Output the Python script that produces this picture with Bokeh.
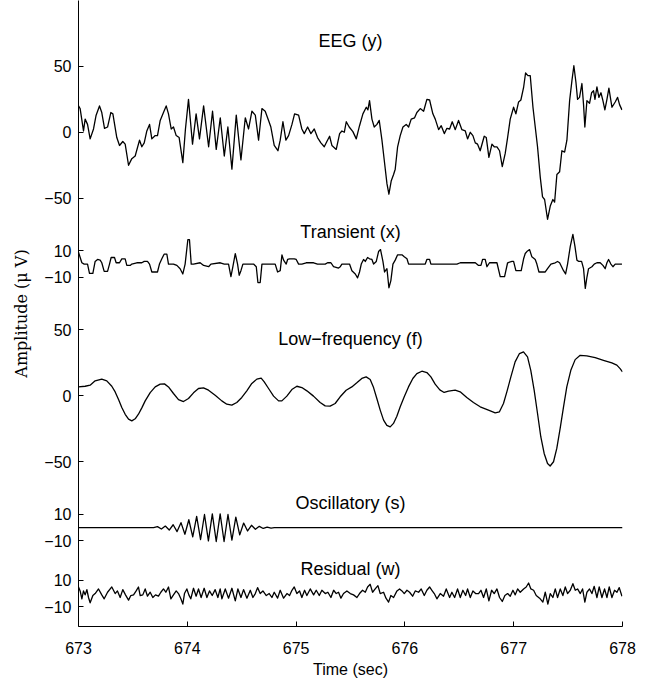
from bokeh.plotting import figure
from bokeh.models import FixedTicker
from bokeh.core.properties import value
from bokeh.embed import file_html
from bokeh.resources import INLINE

# ---------------- data ----------------
eeg_t = [673.000, 673.015, 673.046, 673.061, 673.083, 673.107, 673.138, 673.162, 673.193, 673.214,
         673.239, 673.267, 673.297, 673.316, 673.352, 673.377, 673.407, 673.429, 673.460, 673.490,
         673.521, 673.561, 673.582, 673.604, 673.628, 673.653, 673.674, 673.705, 673.726, 673.751,
         673.781, 673.806, 673.827, 673.852, 673.873, 673.898, 673.925, 673.959, 673.983, 674.011,
         674.048, 674.081, 674.112, 674.150, 674.196, 674.232, 674.266, 674.303, 674.340, 674.373,
         674.410, 674.450, 674.493, 674.533, 674.563, 674.594, 674.625, 674.655, 674.686, 674.716,
         674.747, 674.768, 674.799, 674.833, 674.854, 674.879, 674.906, 674.931, 674.962, 674.986,
         675.023, 675.053, 675.075, 675.106, 675.136, 675.167, 675.197, 675.228, 675.259, 675.277,
         675.308, 675.329, 675.369, 675.400, 675.421, 675.443, 675.461, 675.488, 675.522, 675.553,
         675.583, 675.614, 675.645, 675.660, 675.675, 675.697, 675.718, 675.743, 675.764, 675.789,
         675.810, 675.835, 675.853, 675.874, 675.896, 675.911, 675.933, 675.957, 675.982, 676.012,
         676.034, 676.058, 676.089, 676.110, 676.141, 676.172, 676.202, 676.227, 676.257, 676.279,
         676.310, 676.334, 676.362, 676.386, 676.411, 676.435, 676.463, 676.493, 676.524, 676.555,
         676.576, 676.601, 676.625, 676.647, 676.668, 676.692, 676.729, 676.748, 676.772, 676.800,
         676.821, 676.846, 676.870, 676.895, 676.922, 676.944, 676.968, 676.999, 677.020, 677.045,
         677.066, 677.091, 677.109, 677.131, 677.152, 677.177, 677.198, 677.219, 677.244, 677.265,
         677.284, 677.311, 677.336, 677.360, 677.376, 677.397, 677.422, 677.443, 677.468, 677.489,
         677.514, 677.535, 677.553, 677.572, 677.587, 677.605, 677.627, 677.642, 677.654, 677.673,
         677.697, 677.716, 677.734, 677.747, 677.765, 677.783, 677.802, 677.820, 677.838, 677.857,
         677.875, 677.903, 677.933, 677.955, 677.973, 677.995]
eeg_v = [20, 18, 1, 10, 6, -5, 2.5, 13, 20, 15,
         3, 4, 15, 14, -4, -10, -7, -9, -25, -20,
         -18, -6, -11, -8, 1, 6, -5, -2.5, -2.5, 9,
         15, 20, 14, 2.5, 4, -2.5, -4, -23, 2.5, 25,
         -9, 14, -5, 20, -11, 16, -13, 11, -18, 4,
         -28, 13, -21, 11, 2.5, 16, 13, -6, 18, 16,
         9, 4, -10, -14, -6, 8, -6, -2.5, 6, 14,
         13, 2.5, -1, 4, -1, 2.5, -4, -8, -11, -8,
         -3, -10, -13, -1, 1, 0, 8, 4, 0.5, -5,
         5, 14, 19, 17, 24, 10, 4, 6, 9, -6,
         -21, -39, -47, -37, -32, -28, -11, -2.5, 4, 6,
         4, 10, 11, 15, 18, 16, 25, 24.5, 14, 10,
         2, 5, -1, 3, 2.5, 8, 2, 9, 2, 1,
         -5, 0, -2.5, -8, -9, -14, -3, -4, -19, -9,
         -11, -11, -14, -26, -16, -4, 10, 19, 14, 23,
         24.5, 34, 45, 43, 43, 19, 4, -11, -34, -49,
         -51, -66, -56, -51, -53, -32, -30, -14, -15, -6,
         24, 39, 50.5, 38, 25, 26.5, 37, 21, 4, 24,
         22, 30, 31.5, 25, 34.5, 26.5, 30, 24, 17, 25,
         33.5, 19, 23, 26.5, 21, 17]

tr_t = [673.000, 673.031, 673.052, 673.083, 673.101, 673.132, 673.153, 673.175, 673.199, 673.214,
        673.236, 673.267, 673.285, 673.300, 673.331, 673.346, 673.377, 673.398, 673.429, 673.444,
        673.475, 673.490, 673.536, 673.582, 673.604, 673.634, 673.653, 673.674, 673.726, 673.744,
        673.766, 673.787, 673.812, 673.827, 673.873, 673.904, 673.934, 673.959, 673.980, 674.005,
        674.020, 674.036, 674.057, 674.118, 674.150, 674.196, 674.217, 674.303, 674.340, 674.379,
        674.401, 674.419, 674.441, 674.462, 674.477, 674.493, 674.511, 674.609, 674.634, 674.649,
        674.670, 674.686, 674.808, 674.830, 674.854, 674.870, 674.885, 674.909, 674.922, 674.940,
        674.983, 675.001, 675.023, 675.053, 675.093, 675.161, 675.197, 675.268, 675.289, 675.320,
        675.344, 675.390, 675.406, 675.421, 675.491, 675.513, 675.544, 675.565, 675.583, 675.599,
        675.620, 675.636, 675.657, 675.675, 675.697, 675.712, 675.737, 675.758, 675.776, 675.798,
        675.813, 675.835, 675.853, 675.871, 675.890, 675.911, 675.933, 675.973, 675.994, 676.019,
        676.034, 676.187, 676.202, 676.227, 676.239, 676.478, 676.509, 676.647, 676.677, 676.699,
        676.714, 676.738, 676.754, 676.778, 676.846, 676.876, 676.916, 676.944, 676.984, 676.999,
        677.020, 677.069, 677.091, 677.106, 677.121, 677.146, 677.167, 677.198, 677.213, 677.232,
        677.290, 677.311, 677.342, 677.382, 677.403, 677.422, 677.458, 677.477, 677.495, 677.520,
        677.544, 677.563, 677.581, 677.599, 677.624, 677.642, 677.658, 677.673, 677.688, 677.719,
        677.740, 677.765, 677.795, 677.820, 677.841, 677.857, 677.872, 677.893, 677.912, 677.933,
        677.995]
tr_v = [9, 1, 0, 0, -7, -7, 2, 3.5, 3, 1,
        -5.5, -5.5, 0, 5, 5, 1, 1, 4, 4, -1,
        -1, 0, 1, 1, 2, 2, 0, -6, -6, 0,
        4, 7.5, 7.5, 0, 0, -1, -3.5, -7.5, 0, 18.5,
        18.5, 0, 0, 1, -1, -2, 0, 1, 0, 0,
        -9.5, -2, 8, 0, -8.5, -5, 0, 0, -2, -14,
        -14, 0, 0, -6, -5, 7, 3, 0, 3.5, 4,
        4, 3.5, 0, 0, 1, 1, 0, 0, 1, 1,
        -2, -3, -2, 0, 0, -5, -7.5, -10.5, -6, 0,
        3.5, 2, 5, 4, 3.5, 0, 2, 9.5, 11, 2,
        -6, -3.5, -18, -12.5, 0, 3, 7, 7, 5.5, 4,
        0, 0, 3.5, 3.5, 0, 0, 1, 1, -1, -1,
        3.5, 3.5, -2, 1, 1, -9.5, -9.5, 1, 2, 2,
        -5, -5, 4, 8, 9.5, 11, 5.5, 3.5, 0, -6,
        -6, -3.5, 0, 1, 2, 1, -5, -7.5, 0, 13.5,
        22.5, 13.5, 3, 2, 2, -3.5, -18.5, -10, -3.5, -2,
        0, 1, 1, -1, -3.5, 1, 3.5, 0, -2, 0,
        0]

lf_t = [673.000, 673.061, 673.107, 673.153, 673.214, 673.260, 673.306, 673.337, 673.368, 673.398,
        673.429, 673.460, 673.490, 673.521, 673.551, 673.582, 673.613, 673.659, 673.705, 673.751,
        673.790, 673.827, 673.873, 673.919, 673.965, 674.011, 674.057, 674.103, 674.149, 674.195,
        674.256, 674.317, 674.363, 674.409, 674.455, 674.501, 674.547, 674.593, 674.639, 674.679,
        674.707, 674.747, 674.793, 674.839, 674.869, 674.915, 674.961, 675.007, 675.053, 675.099,
        675.160, 675.221, 675.267, 675.313, 675.359, 675.405, 675.460, 675.512, 675.558, 675.604,
        675.644, 675.681, 675.712, 675.742, 675.773, 675.804, 675.834, 675.865, 675.895, 675.926,
        675.957, 675.994, 676.033, 676.073, 676.110, 676.156, 676.202, 676.239, 676.278, 676.321,
        676.361, 676.401, 676.462, 676.508, 676.569, 676.630, 676.692, 676.768, 676.830, 676.869,
        676.906, 676.937, 676.974, 677.013, 677.053, 677.090, 677.127, 677.157, 677.188, 677.219,
        677.249, 677.280, 677.311, 677.335, 677.366, 677.396, 677.427, 677.458, 677.488, 677.525,
        677.565, 677.611, 677.672, 677.749, 677.825, 677.902, 677.948, 677.978, 678.000]
lf_v = [6.8, 7.3, 8.1, 11.4, 12.7, 11.4, 7.3, 3, -2.8, -8.8,
        -14, -17.7, -19, -17.4, -13.9, -9.1, -3.8, 2.5, 6.8, 8.9,
        9.1, 6.8, 1.8, -2.8, -4.3, -2, 2.3, 5.6, 6.1, 4.3,
        0.5, -3.8, -6.3, -7, -5, -1.2, 3.8, 9.4, 12.7, 13.4,
        10.6, 5.6, -0.2, -3.8, -3.8, -0.2, 4.8, 7.3, 6.3, 3.8,
        -0.2, -5, -7.6, -7.8, -5.8, -0.7, 4.3, 6.8, 9.9, 13.2,
        14.4, 12.4, 6.3, -2, -10.8, -18.4, -22.4, -23.5, -20.9, -15.4,
        -8.3, -0.7, 6.8, 13.2, 16.9, 18.7, 17.7, 14.4, 8.9, 4.5,
        2.6, 3.6, 4.3, 3.1, -1.2, -5, -8.3, -10.8, -12.9, -12.1,
        -5.8, 3, 14.4, 25.8, 32.1, 33.4, 29.6, 19.4, 4.3, -13.4,
        -31, -43.7, -51.3, -53.2, -50, -39.9, -24.7, -8.3, 6.8, 19.4,
        27.5, 30.8, 30.3, 29, 27, 25, 23.3, 20.7, 18.2]

osc_t = [673.000, 673.690, 673.726, 673.762, 673.798, 673.834, 673.870, 673.906, 673.942, 673.978,
         674.014, 674.050, 674.086, 674.122, 674.158, 674.194, 674.230, 674.266, 674.302, 674.338,
         674.374, 674.410, 674.446, 674.482, 674.518, 674.554, 674.590, 674.626, 674.662, 674.698,
         674.734, 674.770, 674.800, 678.000]
osc_v = [0, 0, 0.8, -1, 1.2, -1.8, 2.2, -3, 3.8, -5,
         6, -7, 8.5, -9, 10, -10, 10.5, -10.5, 10.5, -10.5,
         10, -9.5, 8, -5.5, 3.5, -2.5, 1.8, -1.2, 1, -0.6,
         0.4, -0.3, 0, 0]

res_t = [673.000, 673.015, 673.031, 673.046, 673.061, 673.077, 673.092, 673.107, 673.132, 673.153,
         673.184, 673.214, 673.236, 673.267, 673.306, 673.337, 673.358, 673.383, 673.407, 673.432,
         673.460, 673.481, 673.506, 673.530, 673.551, 673.567, 673.591, 673.613, 673.634, 673.659,
         673.683, 673.708, 673.735, 673.757, 673.781, 673.803, 673.827, 673.849, 673.873, 673.898,
         673.919, 673.941, 673.959, 673.974, 673.996, 674.014, 674.032, 674.057, 674.081, 674.103,
         674.127, 674.155, 674.180, 674.204, 674.229, 674.256, 674.281, 674.302, 674.318, 674.349,
         674.379, 674.410, 674.441, 674.465, 674.493, 674.517, 674.548, 674.579, 674.603, 674.625,
         674.646, 674.670, 674.695, 674.726, 674.753, 674.778, 674.799, 674.830, 674.854, 674.885,
         674.916, 674.940, 674.962, 674.983, 675.007, 675.032, 675.053, 675.078, 675.099, 675.130,
         675.161, 675.185, 675.213, 675.237, 675.268, 675.292, 675.320, 675.345, 675.369, 675.390,
         675.412, 675.436, 675.467, 675.498, 675.528, 675.559, 675.583, 675.611, 675.636, 675.657,
         675.681, 675.703, 675.727, 675.752, 675.773, 675.804, 675.826, 675.850, 675.871, 675.896,
         675.927, 675.951, 675.973, 675.994, 676.019, 676.043, 676.071, 676.095, 676.126, 676.150,
         676.178, 676.202, 676.227, 676.248, 676.270, 676.294, 676.325, 676.355, 676.380, 676.411,
         676.432, 676.457, 676.484, 676.509, 676.533, 676.558, 676.576, 676.601, 676.625, 676.650,
         676.677, 676.699, 676.723, 676.748, 676.772, 676.797, 676.821, 676.846, 676.870, 676.895,
         676.919, 676.944, 676.968, 676.993, 677.014, 677.036, 677.060, 677.091, 677.115, 677.137,
         677.158, 677.183, 677.207, 677.238, 677.268, 677.290, 677.314, 677.336, 677.360, 677.382,
         677.403, 677.428, 677.452, 677.474, 677.495, 677.520, 677.544, 677.566, 677.587, 677.612,
         677.633, 677.654, 677.673, 677.697, 677.719, 677.740, 677.765, 677.786, 677.811, 677.835,
         677.857, 677.878, 677.903, 677.927, 677.949, 677.970, 677.995]
res_v = [5, 2, -4, 2, -1, 3, -3, -7, -1.5, 0,
         3.5, -1, -4, 1, 5, 0, 2, -3, 3, -1,
         -5, -1.5, -1, 2, 5, -1.5, -1, 3.5, -2, 1,
         -3, -1, -2, 1, 3.5, 1, 5, -4, -1, 2,
         0, -4, -8, 0, 3.5, -1, -4, 4, -2, 3.5,
         -3, 4, -3, 2, -1.5, 3, -3, 3.5, -4, 3.5,
         -3.5, 4, -5.5, 3.5, -3, 3, -3.5, 2.5, -3, 0,
         4.5, 0, 2, -1.5, 0, -3, 1, -3.5, 2.5, -3.5,
         0, -1.5, 2.5, 5, 0, 2, -3, 2.5, -1.5, 3.5,
         -1, 2.5, -1.5, 2.5, 0, 1, -3, 2.5, 0, 1,
         -3.5, 0, 2, 0, -1, -3, 0, 2.5, 1, 5,
         7, 1, 3.5, 6, 0, 1, -3.5, -6.5, -1.5, -3,
         2, 3.5, 2, 0, 2.5, 1, -2, 2, 1, 3.5,
         -1.5, 2.5, 5, 2.5, 0, -4, 0, -2, 3.5, -3,
         1, -3, 3.5, -3, 2.5, -1.5, 3.5, -3, 2, 0,
         0, 2.5, -3, 3.5, -5.5, 2.5, 0, 3.5, -3, -6,
         -1.5, 0, -2, 2.5, -1, 3.5, 1, 3.5, 5, 8,
         3.5, 2.5, -1.5, -3.5, -6.5, 1, -8, 0, -3, 3.5,
         -3, 3.5, -1.5, 5, 0, 2.5, 7.5, 2.5, 3.5, 0,
         3.5, -6.5, 1, 3.5, 0, 5.5, -3, 5, -3, 3.5,
         -3, 5, -3, 2.5, 1, 4.5, -2]

panel_names = ["EEG (y)", "Transient (x)", "Low\u2212frequency (f)", "Oscillatory (s)", "Residual (w)"]
panel_offsets = [0, -100, -200, -300, -350]

ytick_vals = [50, 0, -50, -90, -110, -150, -200, -250, -290, -310, -340, -360]
ytick_labels = ["50", "0", "\u221250", "10", "\u221210", "50", "0", "\u221250",
                "10", "\u221210", "10", "\u221210"]
xtick_vals = [673, 674, 675, 676, 677, 678]

# ---------------- layout ----------------
title_x = [675.5, 675.5, 675.5, 675.5, 675.5]
title_y = [69.6, -75.8, -156.7, -281.1, -331.2]

p = figure(width=660, height=681, x_range=(673, 678), y_range=(-375, 100),
           output_backend="svg", toolbar_location=None,
           min_border_left=78, min_border_right=38, min_border_top=0, min_border_bottom=55,
           background_fill_color="white", border_fill_color="white")
p.outline_line_color = None
p.xgrid.visible = False
p.ygrid.visible = False

series = [(eeg_t, eeg_v), (tr_t, tr_v), (lf_t, lf_v), (osc_t, osc_v), (res_t, res_v)]
for (ts, vs), off in zip(series, panel_offsets):
    p.line(x=ts, y=[v + off for v in vs], line_color="black", line_width=1.3,
           line_join="round")

p.text(x=title_x, y=title_y, text=panel_names, text_font=value("Liberation Sans"),
       text_font_size="18px", text_align="center", text_baseline="middle", text_color="black")

for ax in (p.xaxis[0], p.yaxis[0]):
    ax.axis_line_color = "black"
    ax.axis_line_width = 1
    ax.major_tick_line_color = "black"
    ax.major_tick_in = 5
    ax.major_tick_out = 0
    ax.minor_tick_line_color = None
    ax.major_label_text_font = "Liberation Sans"
    ax.major_label_text_font_size = "16px"
    ax.major_label_text_color = "black"
    ax.axis_label_text_color = "black"
    ax.axis_label_text_font_style = "normal"

p.xaxis.ticker = FixedTicker(ticks=xtick_vals)
p.xaxis.major_label_standoff = 15
p.xaxis.axis_label = "Time (sec)"
p.xaxis.axis_label_text_font = "Liberation Sans"
p.xaxis.axis_label_text_font_size = "16px"
p.xaxis.axis_label_standoff = 4

p.yaxis.ticker = FixedTicker(ticks=ytick_vals)
p.yaxis.major_label_overrides = {v: s for v, s in zip(ytick_vals, ytick_labels)}
p.yaxis.major_label_standoff = 7
p.yaxis.axis_label = "Amplitude (\u03bc V)"
p.yaxis.axis_label_text_font = "DejaVu Serif"
p.yaxis.axis_label_text_font_size = "16px"
p.yaxis.axis_label_standoff = 10

open("out.html", "w").write(file_html(p, INLINE))
